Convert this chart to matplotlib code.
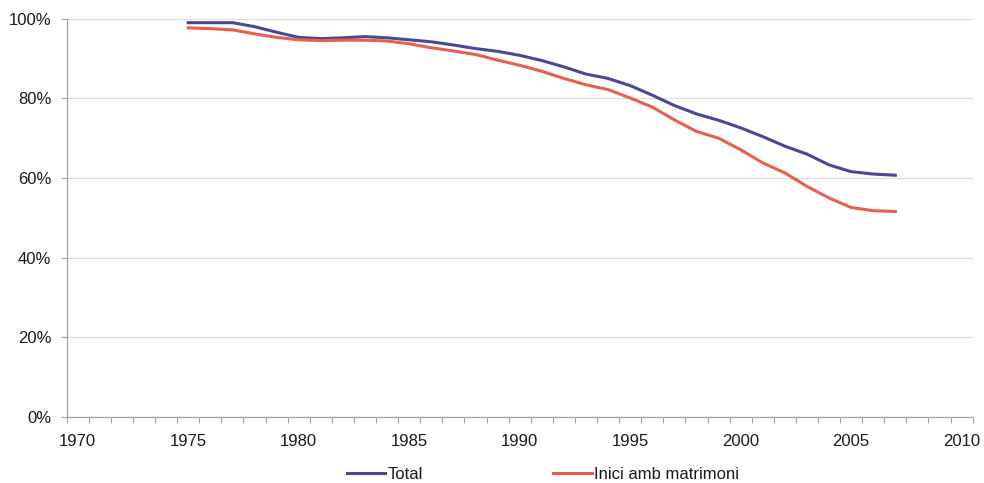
import matplotlib

matplotlib.use("Agg")
import matplotlib.pyplot as plt
from matplotlib.ticker import FixedLocator, FuncFormatter

plt.rcParams["font.family"] = ["Liberation Sans", "DejaVu Sans"]

years = list(range(1975, 2008))
total = [99.0, 99.0, 99.0, 98.0, 96.6, 95.3, 95.0, 95.2, 95.5, 95.2,
         94.7, 94.2, 93.4, 92.5, 91.8, 90.8, 89.5, 87.9, 86.1, 85.0,
         83.2, 80.8, 78.2, 76.1, 74.5, 72.6, 70.4, 68.0, 66.0, 63.3,
         61.6, 61.0, 60.7]
inici_matrimoni = [97.7, 97.5, 97.2, 96.2, 95.3, 94.7, 94.5, 94.6, 94.6, 94.4,
                   93.7, 92.7, 91.9, 91.0, 89.6, 88.3, 86.8, 85.0, 83.4, 82.2,
                   80.1, 77.8, 74.6, 71.7, 70.0, 67.1, 63.8, 61.3, 57.9, 55.0,
                   52.6, 51.8, 51.6]
series_labels = ["Total", "Inici amb matrimoni"]
x_labels = [1970, 1975, 1980, 1985, 1990, 1995, 2000, 2005, 2010]
y_ticks = [0, 20, 40, 60, 80, 100]

axis_grey = "#a9a29d"
grid_grey = "#dcdcdc"
text_col = "#1a1a1a"

fig = plt.figure(figsize=(9.84, 4.83), dpi=100)
ax = fig.add_axes([0.0678, 0.1366, 0.9207, 0.8247])

ax.plot(years, total, color="#4a4895", lw=2.2, label=series_labels[0], zorder=3)
ax.plot(years, inici_matrimoni, color="#e8604b", lw=2.2, label=series_labels[1], zorder=3)

# category-style axis: labels centred on years, tick marks between them
ax.set_xlim(1969.5, 2010.5)
ax.xaxis.set_major_locator(FixedLocator(x_labels))
ax.xaxis.set_minor_locator(FixedLocator([y + 0.5 for y in range(1969, 2011)]))
ax.tick_params(axis="x", which="major", length=0, pad=12, labelsize=12, colors=text_col)
ax.tick_params(axis="x", which="minor", length=4, width=0.8, color=axis_grey, direction="out")

ax.set_ylim(0, 100)
ax.set_yticks(y_ticks)
ax.yaxis.set_major_formatter(FuncFormatter(lambda v, _: f"{v:.0f}%"))
ax.tick_params(axis="y", length=4, width=0.8, color=axis_grey, pad=7, labelsize=12,
               labelcolor=text_col)
ax.grid(axis="y", color=grid_grey, lw=0.9, zorder=0)
ax.set_axisbelow(True)

for side in ("top", "right"):
    ax.spines[side].set_visible(False)
for side in ("left", "bottom"):
    ax.spines[side].set_color(axis_grey)
    ax.spines[side].set_linewidth(0.9)

leg = fig.legend(loc="center", bbox_to_anchor=(0.552, 0.018), ncol=2, frameon=False,
                 fontsize=12, handlelength=2.3, handletextpad=0.15, columnspacing=7.8)
for t in leg.get_texts():
    t.set_color(text_col)

fig.savefig("out.png", dpi=100)
plt.close(fig)
